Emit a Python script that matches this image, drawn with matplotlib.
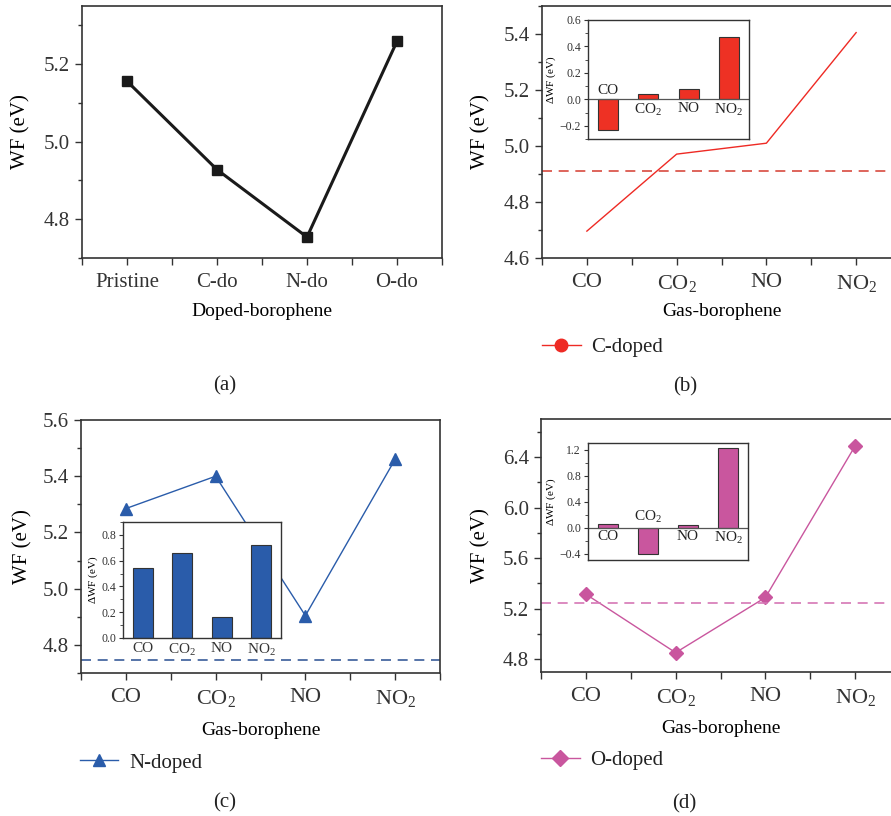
import matplotlib
matplotlib.use('Agg')
import matplotlib.pyplot as plt
from matplotlib.lines import Line2D
from matplotlib.ticker import MultipleLocator, FixedLocator

plt.rcParams['font.family'] = ['Liberation Serif', 'DejaVu Serif']
plt.rcParams['mathtext.fontset'] = 'custom'
plt.rcParams['mathtext.rm'] = 'Liberation Serif'
plt.rcParams['mathtext.default'] = 'regular'
plt.rcParams['axes.edgecolor'] = '#333333'
plt.rcParams['text.color'] = '#222222'
plt.rcParams['xtick.color'] = '#333333'
plt.rcParams['ytick.color'] = '#333333'

# 数据
doped = ['Pristine', 'C-do', 'N-do', 'O-do']
wf_doped = [5.156, 4.928, 4.754, 5.259]

gases = ['CO', r'CO$_2$', 'NO', r'NO$_2$']

wf_c = [4.696, 4.971, 5.010, 5.405]
base_c = 4.911
dwf_c = [-0.235, 0.04, 0.08, 0.47]

wf_n = [5.285, 5.400, 4.904, 5.460]
base_n = 4.746
dwf_n = [0.546, 0.662, 0.164, 0.723]

wf_o = [5.315, 4.853, 5.289, 6.487]
base_o = 5.247
dwf_o = [0.06, -0.41, 0.035, 1.22]

W, H = 891, 816
fig = plt.figure(figsize=(W / 100, H / 100), dpi=100)


def box(left, right, top, bottom):
    return [left / W, 1 - bottom / H, (right - left) / W, (bottom - top) / H]


def style_main(ax, labels, xlabel, ylim, major, minor, xfs):
    ax.set_xlim(-0.5, 3.5)
    ax.set_ylim(*ylim)
    ax.set_xticks(range(4))
    ax.set_xticklabels(labels, fontsize=xfs)
    ax.xaxis.set_minor_locator(FixedLocator([-0.5, 0.5, 1.5, 2.5, 3.5]))
    ax.yaxis.set_major_locator(MultipleLocator(major))
    ax.yaxis.set_minor_locator(MultipleLocator(minor))
    ax.tick_params(axis='both', which='both', direction='out', width=1.0)
    ax.tick_params(axis='x', which='both', length=5, pad=6)
    ax.tick_params(axis='y', which='major', length=5, labelsize=15)
    ax.tick_params(axis='y', which='minor', length=3)
    for s in ax.spines.values():
        s.set_linewidth(1.2)
    ax.set_ylabel('WF (eV)', fontsize=15)
    ax.yaxis.set_label_coords(-0.144, 0.5)
    ax.set_xlabel(xlabel, fontsize=14)


def style_inset(ax, ylim, major, minor):
    ax.set_xlim(-0.5, 3.5)
    ax.set_ylim(*ylim)
    ax.yaxis.set_major_locator(MultipleLocator(major))
    ax.yaxis.set_minor_locator(MultipleLocator(minor))
    ax.tick_params(axis='y', which='major', direction='out', length=3,
                   labelsize=8.5, pad=2)
    ax.tick_params(axis='y', which='minor', direction='out', length=2)
    for s in ax.spines.values():
        s.set_linewidth(1.0)
    ax.set_ylabel(r'$\Delta$WF (eV)', fontsize=8, labelpad=1)


# (a)
ax = fig.add_axes(box(82, 442, 6, 258))
ax.plot(range(4), wf_doped, color='#1a1a1a', lw=2.2, marker='s', ms=7.5)
style_main(ax, doped, 'Doped-borophene', (4.7, 5.35), 0.2, 0.1, 15)
ax.xaxis.set_label_coords(0.5, -0.18)

# (b)
ax = fig.add_axes(box(542, 901, 6, 258))
ax.plot(range(4), wf_c, color='#EE2A24', lw=1.0)
ax.axhline(base_c, color='#D84A3F', lw=1.2, ls=(0, (6, 4)))
style_main(ax, gases, 'Gas-borophene', (4.6, 5.5), 0.2, 0.1, 16)
ax.xaxis.set_label_coords(0.5, -0.18)
ax.legend(handles=[Line2D([], [], color='#EE2A24', lw=1.0, marker='o', ms=9)],
          labels=['C-doped'], loc='center left', bbox_to_anchor=(0.0, -0.355),
          frameon=False, fontsize=15, handlelength=1.85, handletextpad=0.5,
          borderpad=0, borderaxespad=0)

ins = fig.add_axes(box(588, 749, 20, 139))
ins.bar(range(4), dwf_c, width=0.5, color='#EE3124', edgecolor='#333333', lw=0.8)
ins.axhline(0, color='#555555', lw=0.9)
style_inset(ins, (-0.3, 0.6), 0.2, 0.1)
ins.set_xticks([])
for i, v in enumerate(dwf_c):
    if v < 0:
        ins.annotate(gases[i], (i, 0), xytext=(0, 2), textcoords='offset points',
                     ha='center', va='bottom', fontsize=11)
    else:
        ins.annotate(gases[i], (i, 0), xytext=(0, -2), textcoords='offset points',
                     ha='center', va='top', fontsize=11)

# (c)
ax = fig.add_axes(box(81, 440, 420, 673))
ax.plot(range(4), wf_n, color='#2A5CAA', lw=1.0, marker='^', ms=9)
ax.axhline(base_n, color='#3A5C9A', lw=1.2, ls=(0, (6, 4)))
style_main(ax, gases, 'Gas-borophene', (4.7, 5.6), 0.2, 0.1, 16)
ax.yaxis.set_label_coords(-0.136, 0.5)
ax.xaxis.set_label_coords(0.5, -0.194)
ax.legend(handles=[Line2D([], [], color='#2A5CAA', lw=1.0, marker='^', ms=9)],
          labels=['N-doped'], loc='center left', bbox_to_anchor=(-0.003, -0.355),
          frameon=False, fontsize=15, handlelength=1.85, handletextpad=0.5,
          borderpad=0, borderaxespad=0)

ins = fig.add_axes(box(123, 281, 522, 638))
ins.bar(range(4), dwf_n, width=0.5, color='#2A5CAA', edgecolor='#333333', lw=0.8)
style_inset(ins, (0, 0.9), 0.2, 0.1)
ins.set_xticks(range(4))
ins.set_xticklabels(gases, fontsize=11)
ins.tick_params(axis='x', length=0, pad=3)

# (d)
ax = fig.add_axes(box(541, 900, 419, 672))
ax.plot(range(4), wf_o, color='#C9569E', lw=1.0, marker='D', ms=7.5)
ax.axhline(base_o, color='#D577B5', lw=1.2, ls=(0, (6, 4)))
style_main(ax, gases, 'Gas-borophene', (4.7, 6.7), 0.4, 0.2, 16)
ax.yaxis.set_label_coords(-0.142, 0.5)
ax.xaxis.set_label_coords(0.5, -0.19)
ax.legend(handles=[Line2D([], [], color='#C9569E', lw=1.0, marker='D', ms=8)],
          labels=['O-doped'], loc='center left', bbox_to_anchor=(0.0, -0.35),
          frameon=False, fontsize=15, handlelength=1.85, handletextpad=0.5,
          borderpad=0, borderaxespad=0)

ins = fig.add_axes(box(588, 748, 443, 560))
ins.bar(range(4), dwf_o, width=0.5, color='#C9569E', edgecolor='#333333', lw=0.8)
ins.axhline(0, color='#555555', lw=0.9)
style_inset(ins, (-0.5, 1.3), 0.4, 0.2)
ins.set_xticks([])
for i, v in enumerate(dwf_o):
    if v < 0:
        ins.annotate(gases[i], (i, 0), xytext=(0, 2), textcoords='offset points',
                     ha='center', va='bottom', fontsize=11)
    else:
        ins.annotate(gases[i], (i, 0), xytext=(0, -2), textcoords='offset points',
                     ha='center', va='top', fontsize=11)

# 子图标号
for lab, x, y in [('(a)', 225, 386), ('(b)', 685, 387), ('(c)', 225, 803), ('(d)', 684, 804)]:
    fig.text(x / W, 1 - y / H, lab, ha='center', va='center', fontsize=15)

fig.savefig('out.png', dpi=100)
